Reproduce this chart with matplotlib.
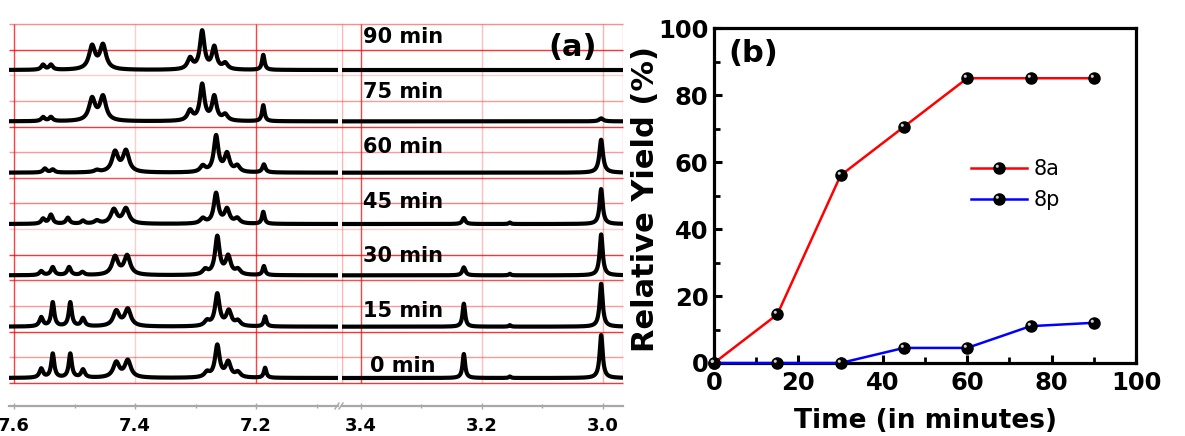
import numpy as np
import matplotlib
matplotlib.use('Agg')
import matplotlib.pyplot as plt
from matplotlib.path import Path
from matplotlib.legend_handler import HandlerTuple

# ---------------- data ----------------
times_min = [0, 15, 30, 45, 60, 75, 90]
yield_8a = [0, 14.5, 56, 70.5, 85, 85, 85]
yield_8p = [0, 0, 0, 4.5, 4.5, 11, 12]

spectrum_labels = ['0 min', '15 min', '30 min', '45 min', '60 min', '75 min', '90 min']

# 1H NMR peak lists (shift ppm, height, half-width ppm), bottom (0 min) to top (90 min)
peaks_aromatic = [
    [(7.555, 9, .0035), (7.536, 24, .003), (7.507, 24, .003), (7.486, 8, .0035),
     (7.431, 15, .006), (7.412, 17, .006), (7.281, 5, .005), (7.264, 32, .0045),
     (7.246, 15, .005), (7.230, 5, .005), (7.185, 10, .0025)],
    [(7.555, 9, .0035), (7.536, 24, .003), (7.507, 24, .003), (7.486, 8, .0035),
     (7.431, 15, .006), (7.412, 17, .006), (7.281, 5, .005), (7.264, 32, .0045),
     (7.245, 15, .005), (7.230, 5, .005), (7.185, 10, .0025)],
    [(7.555, 4, .0035), (7.536, 8, .0035), (7.509, 8, .0035), (7.487, 3, .0035),
     (7.433, 18, .006), (7.413, 19, .006), (7.284, 5, .005), (7.264, 38, .0045),
     (7.246, 18, .005), (7.230, 5, .005), (7.187, 9, .0025)],
    [(7.552, 5, .0035), (7.539, 9, .0035), (7.511, 6, .0035), (7.486, 3, .0035),
     (7.463, 3, .005), (7.435, 14, .006), (7.415, 15, .006), (7.288, 5, .005),
     (7.266, 30, .0045), (7.248, 14, .005), (7.231, 5, .005), (7.188, 12, .0025)],
    [(7.549, 4, .0035), (7.536, 3, .0035), (7.463, 2, .005), (7.433, 20, .006),
     (7.415, 21, .006), (7.288, 6, .005), (7.266, 36, .0045), (7.248, 18, .005),
     (7.231, 6, .005), (7.187, 8, .003)],
    [(7.552, 4, .0035), (7.539, 4, .0035), (7.471, 22, .006), (7.453, 24, .006),
     (7.309, 10, .005), (7.289, 36, .0045), (7.269, 24, .0045), (7.251, 6, .005),
     (7.188, 16, .0025)],
    [(7.552, 5, .0035), (7.539, 5, .0035), (7.471, 23, .006), (7.453, 24, .006),
     (7.309, 11, .005), (7.289, 38, .0045), (7.269, 22, .0045), (7.251, 6, .005),
     (7.188, 15, .0025)],
]
peaks_aliphatic = [
    [(3.230, 24, .0025), (3.154, 1.5, .002), (3.003, 43, .003)],
    [(3.230, 23, .0025), (3.154, 1.5, .002), (3.003, 43, .003)],
    [(3.230, 8, .003), (3.154, 1.5, .002), (3.003, 41, .003)],
    [(3.230, 6, .003), (3.154, 1.5, .002), (3.003, 35, .003)],
    [(3.003, 33, .0035)],
    [(3.003, 3, .004)],
    [],
]

left_ticks = [7.6, 7.4, 7.2]
left_minor = [7.5, 7.3, 7.1]
right_ticks = [3.4, 3.2, 3.0]
right_minor = [3.3, 3.1]
yield_ticks = [0, 20, 40, 60, 80, 100]
time_ticks = [0, 20, 40, 60, 80, 100]

# ---------------- figure ----------------
W, H = 1185, 436
fig = plt.figure(figsize=(W / 100, H / 100), dpi=100)
BOLD = dict(family='DejaVu Sans', weight='bold')


def fr(x0, y0, x1, y1):
    """pixel box -> figure fraction rect"""
    return [x0 / W, 1 - y1 / H, (x1 - x0) / W, (y1 - y0) / H]


# overlay in pixel coords (grid lines, labels)
ov = fig.add_axes([0, 0, 1, 1], zorder=0)
ov.set_xlim(0, W)
ov.set_ylim(H, 0)
ov.axis('off')

# horizontal grid of the spectrum panel
h_alphas = [0.45, 0.8, 0.2, 0.4, 0.8, 0.4, 0.7, 0.5, 0.2, 0.8, 0.7, 0.4, 0.8, 0.4, 0.8]
for k, a in enumerate(h_alphas):
    yk = 24 + k * 25.64
    ov.plot([9, 623], [yk, yk], color='red', alpha=a, lw=1.0, solid_capstyle='butt')

# spectrum axes
axL = fig.add_axes(fr(9, 24, 338, 406), zorder=1)
axR = fig.add_axes(fr(342, 24, 623, 406), zorder=1)
xlimL = (7.6083, 7.0645)
xlimR = (3.4314, 2.9669)
spacing = 51.33
base0 = 28.0

for ax, xl, plist, majors, minors in [
        (axL, xlimL, peaks_aromatic, left_ticks, left_minor),
        (axR, xlimR, peaks_aliphatic, right_ticks, right_minor)]:
    ax.patch.set_alpha(0)
    ax.set_xlim(*xl)
    ax.set_ylim(0, 382)
    x = np.linspace(xl[0], xl[1], 1500)
    for i, pk in enumerate(plist):
        y = np.zeros_like(x)
        for (p, h, w) in pk:
            y += h / (1 + ((x - p) / w) ** 2)
        ax.plot(x, base0 + i * spacing + y, color='black', lw=3.0,
                solid_joinstyle='round', solid_capstyle='butt', zorder=3)
    for s in ['top', 'left', 'right']:
        ax.spines[s].set_visible(False)
    ax.spines['bottom'].set_color('#a8a8a8')
    ax.spines['bottom'].set_linewidth(1.6)
    ax.set_yticks([])
    ax.set_xticks(majors)
    ax.set_xticks(minors, minor=True)
    ax.set_xticklabels([f'{t:.1f}' for t in majors], fontsize=13, **BOLD)
    ax.tick_params(axis='x', which='both', direction='inout', length=4, width=1,
                   color='#a8a8a8', pad=6)
    ax.tick_params(axis='x', which='minor', length=3)

# vertical grid lines
for ax, vals in [(axL, [(7.6, 0.75), (7.4, 0.2), (7.2, 0.75), (xlimL[1], 0.3)]),
                 (axR, [(xlimR[0], 0.3), (3.4, 0.75), (3.2, 0.25), (3.0, 0.3), (xlimR[1], 0.3)])]:
    for v, a in vals:
        ax.vlines(v, 23, 382, color='red', alpha=a, lw=1.0, zorder=1)

# axis break marks
for dx in (-2, 2):
    ov.plot([337 + dx, 341 + dx], [409, 403], color='#a8a8a8', lw=1.0)

# time labels
for i, lab in enumerate(spectrum_labels):
    ov.text(403, 366 - i * 54.8, lab, ha='center', va='center', fontsize=15, **BOLD)
ov.text(573, 47, '(a)', ha='center', va='center', fontsize=22, **BOLD)

# ---------------- panel (b) ----------------
# highlight marker: small circle shifted to upper-left of the ball marker
_c = Path.circle(center=(-0.2, 0.2), radius=0.14)
hl_marker = Path(np.vstack([_c.vertices, [[0.5, 0.5]]]),
                 np.concatenate([_c.codes, [Path.MOVETO]]))

axb = fig.add_axes(fr(714, 28, 1136, 363), zorder=2)
axb.set_xlim(0, 100)
axb.set_ylim(0, 100)
handles = []
for ys, col in ((yield_8a, '#ff0000'), (yield_8p, '#0000ff')):
    ln, = axb.plot(times_min, ys, color=col, lw=1.8, marker='o', ms=8,
                   mfc='black', mec='black', zorder=3, clip_on=False)
    hd, = axb.plot(times_min, ys, ls='none', marker=hl_marker, ms=8,
                   mfc='#d0d0d0', mec='none', zorder=4, clip_on=False)
    handles.append((ln, hd))

for s in axb.spines.values():
    s.set_linewidth(2.3)
axb.set_xticks(time_ticks)
axb.set_yticks(yield_ticks)
axb.set_xticks(range(10, 100, 20), minor=True)
axb.set_yticks(range(10, 100, 20), minor=True)
axb.set_xticklabels([str(t) for t in time_ticks], fontsize=17.5, **BOLD)
axb.set_yticklabels([str(t) for t in yield_ticks], fontsize=17.5, **BOLD)
axb.tick_params(which='major', direction='in', length=6, width=2.2, pad=6)
axb.tick_params(which='minor', direction='in', length=4, width=2.0)
axb.tick_params(axis='y', pad=4)
axb.set_xlabel('Time (in minutes)', fontsize=19, **BOLD)
axb.set_ylabel('Relative Yield (%)', fontsize=22, **BOLD)
axb.xaxis.set_label_coords(0.5, -0.135)
axb.yaxis.set_label_coords(-0.128, 0.49)
axb.text(0.035, 0.925, '(b)', transform=axb.transAxes, ha='left', va='center',
         fontsize=22, **BOLD)

leg = axb.legend(handles, ['8a', '8p'],
                 handler_map={tuple: HandlerTuple(ndivide=1)},
                 loc='upper left', bbox_to_anchor=(0.565, 0.665), frameon=False,
                 fontsize=15, handlelength=2.7, handletextpad=0.3, labelspacing=0.55,
                 numpoints=1)

fig.savefig('out.png', dpi=100)
